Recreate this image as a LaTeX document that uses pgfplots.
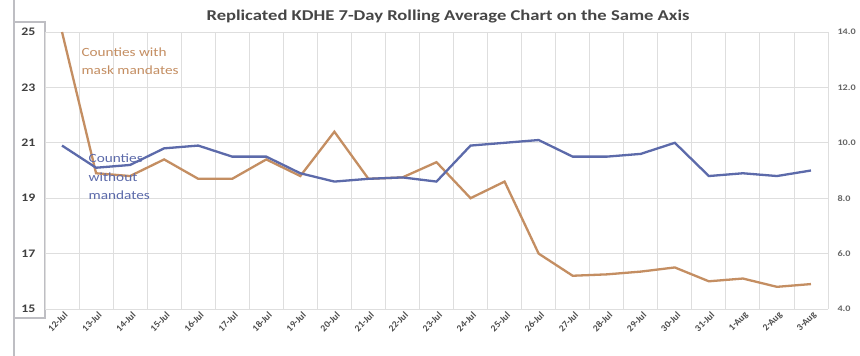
\documentclass[border=0pt]{standalone}
\usepackage{pgfplots}
\pgfplotsset{compat=1.18}
\usepackage{fontspec}
\setmainfont{Carlito}
\definecolor{orangeL}{RGB}{196,142,98}
\definecolor{blueL}{RGB}{92,106,170}
\definecolor{gridc}{RGB}{222,222,222}
\definecolor{titlec}{RGB}{70,70,70}
\definecolor{framec}{RGB}{190,190,195}
\begin{document}
\begin{tikzpicture}[x=1pt,y=1pt]
\path[use as bounding box, fill=white] (0,0) rectangle (860,356);
\draw[framec, line width=1.2pt] (14,0) -- (14,356);
\draw[framec, line width=1.2pt] (14,38) rectangle (45,334);
\node[font=\fontsize{15}{17}\selectfont\bfseries, text=titlec] at (448,339) {\scalebox{1.24}[1]{Replicated KDHE 7-Day Rolling Average Chart on the Same Axis}};
\begin{axis}[
  at={(45pt,47pt)}, anchor=south west,
  scale only axis, width=783pt, height=277pt,
  xmin=-0.5, xmax=22.5, ymin=15, ymax=25,
  xtick={0,...,22},
  xticklabels={12-Jul,13-Jul,14-Jul,15-Jul,16-Jul,17-Jul,18-Jul,19-Jul,20-Jul,21-Jul,22-Jul,23-Jul,24-Jul,25-Jul,26-Jul,27-Jul,28-Jul,29-Jul,30-Jul,31-Jul,1-Aug,2-Aug,3-Aug},
  x tick label style={rotate=45, anchor=east, font=\fontsize{9.5}{10}\selectfont\bfseries, text=black!70, xshift=3pt, yshift=-6pt},
  minor xtick={-0.5,0.5,...,22.5},
  xminorgrids, ymajorgrids,
  minor grid style={gridc, line width=0.9pt},
  major grid style={gridc, line width=0.9pt},
  ytick={15,17,...,25},
  yticklabel={\scalebox{1.2}[1]{\pgfmathprintnumber{\tick}}},
  y tick label style={font=\fontsize{11.5}{12}\selectfont\bfseries, text=black!75, xshift=-6pt},
  /pgf/number format/assume math mode=true,
  tick style={draw=none},
  axis line style={draw=none},
  clip=false,
]
\addplot[orangeL, line width=2.3pt, mark=none] coordinates {
(0,25.0) (1,19.9) (2,19.8) (3,20.4) (4,19.7) (5,19.7) (6,20.4) (7,19.8) (8,21.4) (9,19.7) (10,19.75) (11,20.3) (12,19.0) (13,19.6) (14,17.0) (15,16.2) (16,16.25) (17,16.35) (18,16.5) (19,16.0) (20,16.1) (21,15.8) (22,15.9)
};
\node[anchor=north west, align=left, font=\fontsize{12.5}{17.5}\selectfont, text=orangeL] at (axis cs:0.47,24.55) {\scalebox{1.22}[1]{Counties with}\\\scalebox{1.22}[1]{mask mandates}};
\node[anchor=north west, align=left, font=\fontsize{12.5}{18.5}\selectfont, text=blueL] at (axis cs:0.68,20.72) {\scalebox{1.22}[1]{Counties}\\\scalebox{1.22}[1]{without}\\\scalebox{1.22}[1]{mandates}};
\end{axis}
\begin{axis}[
  at={(45pt,47pt)}, anchor=south west,
  scale only axis, width=783pt, height=277pt,
  xmin=-0.5, xmax=22.5, ymin=4, ymax=14,
  axis y line*=right, axis x line=none,
  ytick={4,6,...,14},
  /pgf/number format/fixed, /pgf/number format/fixed zerofill, /pgf/number format/precision=1,
  yticklabel={\scalebox{1.2}[1]{\pgfmathprintnumber{\tick}}},
  y tick label style={font=\fontsize{8.5}{9}\selectfont\bfseries, text=black!60, xshift=6pt},
  /pgf/number format/assume math mode=true,
  tick style={draw=none},
  axis line style={draw=none},
]
\addplot[blueL, line width=2.3pt, mark=none] coordinates {
(0,9.9) (1,9.1) (2,9.2) (3,9.8) (4,9.9) (5,9.5) (6,9.5) (7,8.9) (8,8.6) (9,8.7) (10,8.75) (11,8.6) (12,9.9) (13,10.0) (14,10.1) (15,9.5) (16,9.5) (17,9.6) (18,10.0) (19,8.8) (20,8.9) (21,8.8) (22,9.0)
};
\end{axis}
\end{tikzpicture}
\end{document}
